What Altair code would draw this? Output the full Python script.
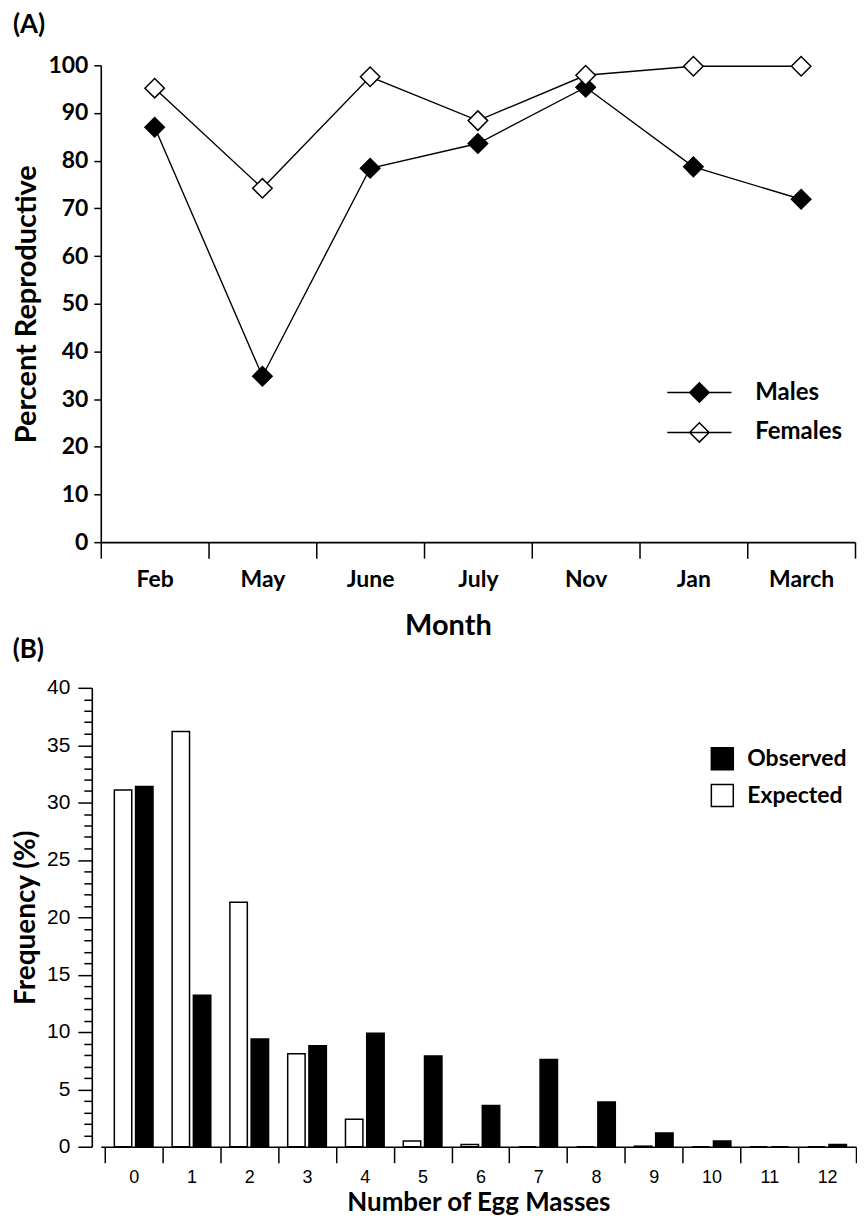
import altair as alt
import pandas as pd

# ---------------- data ----------------
months = ["Feb", "May", "June", "July", "Nov", "Jan", "March"]
males = [87.0, 34.8, 78.4, 83.6, 95.4, 78.7, 71.9]
females = [95.2, 74.2, 97.6, 88.4, 97.9, 99.8, 99.8]

egg_masses = list(range(13))
observed = [31.4, 13.2, 9.4, 8.8, 9.9, 7.9, 3.6, 7.6, 3.9, 1.2, 0.5, 0.0, 0.2]
expected = [31.1, 36.2, 21.3, 8.1, 2.4, 0.5, 0.2, 0.0, 0.0, 0.05, 0.0, 0.0, 0.0]

pct_ticks = list(range(0, 101, 10))
freq_ticks = list(range(0, 41, 1))

BOLD = "Lato"
THIN = "Liberation Sans Narrow, Liberation Sans"

df_a = pd.DataFrame({
    "Month": months * 2,
    "Percent": males + females,
    "Sex": ["Males"] * len(months) + ["Females"] * len(months),
})

df_b = pd.DataFrame({
    "Eggs": egg_masses * 2,
    "Freq": observed + expected,
    "Series": ["Observed"] * len(egg_masses) + ["Expected"] * len(egg_masses),
})

# ---------------- panel A ----------------
x_a = alt.X("Month:N", sort=months,
            scale=alt.Scale(paddingInner=0, paddingOuter=0),
            axis=alt.Axis(title="Month", labelAngle=0, tickBand="extent",
                          tickSize=16, labelPadding=10, labelFont=BOLD,
                          labelFontSize=23, labelFontWeight="bold",
                          titleFont=BOLD, titleFontSize=29, titleFontWeight="bold",
                          titlePadding=21, titleX=348, grid=False))
y_a = alt.Y("Percent:Q", scale=alt.Scale(domain=[0, 100], nice=False),
            axis=alt.Axis(title="Percent Reproductive", values=pct_ticks,
                          tickSize=7, labelPadding=6, labelFont=BOLD,
                          labelFontSize=23, labelFontWeight="bold",
                          titleFont=BOLD, titleFontSize=29, titleFontWeight="bold",
                          titlePadding=6, grid=False))

legend_path = "M-3.3,0L3.3,0M-1,0L0,-1L1,0L0,1Z"

lines_a = alt.Chart(df_a).mark_line(color="black", strokeWidth=1.4).encode(
    x=x_a, y=y_a, detail="Sex:N")
points_a = alt.Chart(df_a).mark_point(
    shape="diamond", filled=True, size=380, stroke="black", strokeWidth=1.5,
    opacity=1).encode(
    x=x_a, y=y_a,
    fill=alt.Fill("Sex:N",
                  scale=alt.Scale(domain=["Males", "Females"], range=["black", "white"]),
                  legend=alt.Legend(title=None, orient="none", legendX=588, legendY=316,
                                    symbolType=legend_path, symbolSize=380,
                                    symbolStrokeColor="black", symbolStrokeWidth=1.5,
                                    labelFont=BOLD, labelFontSize=24,
                                    labelFontWeight="bold", labelColor="black",
                                    labelOffset=44, rowPadding=14, padding=0)))

panel_a = alt.layer(lines_a, points_a).properties(
    width=756, height=478,
    title=alt.TitleParams("(A)", anchor="start", frame="bounds", font=BOLD,
                          fontSize=26, fontWeight="bold", offset=16, color="black"))

# ---------------- panel B ----------------
x_b = alt.X("Eggs:O",
            scale=alt.Scale(paddingInner=0, paddingOuter=0.0345, align=1),
            axis=alt.Axis(title="Number of Egg Masses", labelAngle=0, tickBand="extent",
                          tickSize=16, labelPadding=6, labelFont=THIN,
                          labelFontSize=18, labelFontWeight="normal",
                          titleFont=BOLD, titleFontSize=26, titleFontWeight="bold",
                          titlePadding=3, grid=False))
y_b = alt.Y("Freq:Q", scale=alt.Scale(domain=[0, 40], nice=False),
            axis=alt.Axis(title="Frequency (%)", values=freq_ticks, offset=9,
                          labelExpr="datum.value % 5 === 0 ? datum.label : ''",
                          labelOverlap=False,
                          tickSize={"condition": {"test": "datum.value % 5 === 0", "value": 14},
                                    "value": 8},
                          labelPadding=8, labelFont=THIN,
                          labelFontSize=21, labelFontWeight="normal",
                          titleFont=BOLD, titleFontSize=28, titleFontWeight="bold",
                          titlePadding=6, grid=False))

bars_b = alt.Chart(df_b).mark_bar(stroke="black", strokeWidth=1.5).encode(
    x=x_b, y=y_b,
    xOffset=alt.XOffset("Series:N", sort=["Expected", "Observed"],
                        scale=alt.Scale(paddingInner=0.18, paddingOuter=0.45)),
    fill=alt.Fill("Series:N",
                  scale=alt.Scale(domain=["Observed", "Expected"], range=["black", "white"]),
                  legend=alt.Legend(title=None, orient="none", legendX=611, legendY=59,
                                    symbolType="square", symbolSize=484,
                                    symbolStrokeColor="black", symbolStrokeWidth=1.5,
                                    labelFont=BOLD, labelFontSize=23,
                                    labelFontWeight="bold", labelColor="black",
                                    labelOffset=13, rowPadding=9, padding=0)))

panel_b = bars_b.properties(
    width=757, height=460,
    title=alt.TitleParams("(B)", anchor="start", frame="bounds", font=BOLD,
                          fontSize=26, fontWeight="bold", offset=14, color="black"))

chart = alt.ConcatChart(concat=[panel_a, panel_b], columns=1,
                        bounds="flush", spacing=146).resolve_scale(
    fill="independent").properties(
    padding={"left": 4, "top": 2, "right": 0, "bottom": 0}
).configure_view(stroke=None).configure_axis(
    domainColor="black", tickColor="black", labelColor="black", titleColor="black",
    domainWidth=1.6, tickWidth=1.5)

chart.save("out.html", embed_options={"renderer": "svg", "actions": False})
